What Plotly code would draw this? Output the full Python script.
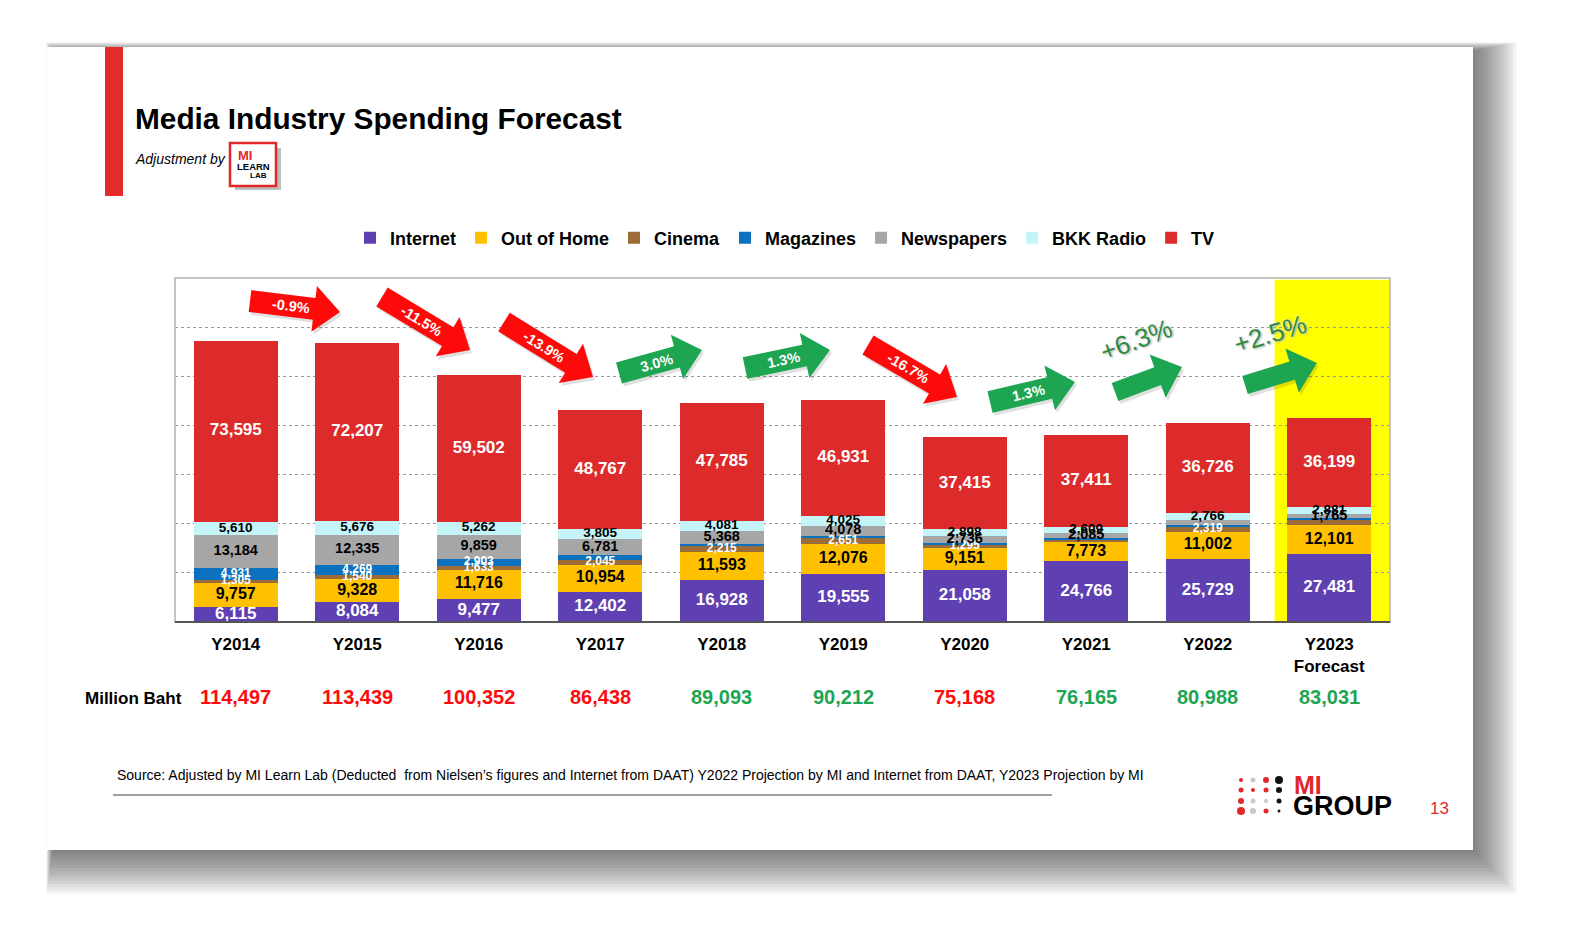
import math
import plotly.graph_objects as go

# ---------------- data ----------------
years = ["Y2014", "Y2015", "Y2016", "Y2017", "Y2018", "Y2019", "Y2020", "Y2021", "Y2022", "Y2023"]
tick_labels = ["Y2014", "Y2015", "Y2016", "Y2017", "Y2018", "Y2019", "Y2020", "Y2021", "Y2022", "Y2023<br>Forecast"]
internet = [6115, 8084, 9477, 12402, 16928, 19555, 21058, 24766, 25729, 27481]
out_of_home = [9757, 9328, 11716, 10954, 11593, 12076, 9151, 7773, 11002, 12101]
cinema = [1305, 1540, 1633, 2045, 2215, 2651, 1295, 1050, 2319, 2200]
magazines = [4931, 4269, 2903, 1684, 1123, 896, 615, 471, 446, 404]
newspapers = [13184, 12335, 9859, 6781, 5368, 4078, 2736, 2085, 2000, 1765]
bkk_radio = [5610, 5676, 5262, 3805, 4081, 4025, 2898, 2609, 2766, 2881]
tv = [73595, 72207, 59502, 48767, 47785, 46931, 37415, 37411, 36726, 36199]
totals = [114497, 113439, 100352, 86438, 89093, 90212, 75168, 76165, 80988, 83031]
growth_pct = [-0.9, -11.5, -13.9, 3.0, 1.3, -16.7, 1.3, 6.3, 2.5]

series_names = ["Internet", "Out of Home", "Cinema", "Magazines", "Newspapers", "BKK Radio", "TV"]
series_values = [internet, out_of_home, cinema, magazines, newspapers, bkk_radio, tv]

# ---------------- styles ----------------
colors = ["#5f40b2", "#ffc000", "#9b6b38", "#0c72c0", "#a6a6a6", "#c4f4f8", "#dd2b2b"]
label_colors = ["white", "black", "white", "white", "black", "black", "white"]
label_sizes = [17, 16, 12, 12, 14.5, 13.5, 17]
hidden_labels = {
    "Cinema": {7, 9},
    "Magazines": {3, 4, 5, 6, 7, 8, 9},
    "Newspapers": {8},
}
FONT = "Liberation Sans, Arial, sans-serif"
RED = "#ff0a0a"
GREEN = "#1ea552"

OFF = 8                     # page body margin
W, H = 1572 - 2 * OFF, 947 - 2 * OFF
PL, PR, PT, PB = 175, 1390, 278, 622  # plot area in reference pixels


def px(x):
    return (x - PL) / (PR - PL)


def py(y):
    return (PB - y) / (PB - PT)


fig = go.Figure()

# stacked bars
cum = [0] * len(years)
for name, vals, col, lc, ls in zip(series_names, series_values, colors, label_colors, label_sizes):
    fig.add_trace(go.Bar(
        x=years, y=vals, name=name, marker=dict(color=col, line=dict(width=0)),
        hoverinfo="x+y+name",
    ))
    hid = hidden_labels.get(name, set())
    mids, texts = [], []
    for i, v in enumerate(vals):
        mids.append(cum[i] + v / 2)
        texts.append("" if i in hid else f"{v:,}")
        cum[i] += v
    fig.add_trace(go.Scatter(
        x=years, y=mids, mode="text", text=texts, showlegend=False, hoverinfo="skip",
        textfont=dict(family=FONT, size=ls, color=lc, weight="bold"), cliponaxis=False,
    ))

shapes = []
# slide shadow (stronger to the right and bottom)
for k in range(14):
    e = 2 + k * 3.2
    shapes.append(dict(type="rect", xref="paper", yref="paper", layer="below",
                       x0=px(47 + 6 - e * 0.15), x1=px(1473 + e), y0=py(850 + e), y1=py(47 + 4 - e * 0.2),
                       line=dict(width=0), fillcolor="rgba(40,40,40,0.055)"))
# slide
shapes.append(dict(type="rect", xref="paper", yref="paper", layer="below",
                   x0=px(47), x1=px(1473), y0=py(850), y1=py(47),
                   line=dict(width=0), fillcolor="white"))
# left red bar
shapes.append(dict(type="rect", xref="paper", yref="paper", layer="below",
                   x0=px(105), x1=px(123), y0=py(196), y1=py(47),
                   line=dict(width=0), fillcolor="#e32b2b"))
# forecast highlight
shapes.append(dict(type="rect", xref="x", yref="y domain", layer="below",
                   x0=8.55, x1=9.5, y0=0, y1=0.995, line=dict(width=0), fillcolor="#ffff00"))
# plot frame
shapes.append(dict(type="rect", xref="paper", yref="paper", layer="above",
                   x0=0, x1=1, y0=0, y1=1, line=dict(width=2, color="#c4c4c4")))
shapes.append(dict(type="line", xref="paper", yref="paper", layer="above",
                   x0=0, x1=1, y0=0, y1=0, line=dict(width=2, color="#555555")))
# source underline
shapes.append(dict(type="line", xref="paper", yref="paper", layer="above",
                   x0=px(113), x1=px(1052), y0=py(795), y1=py(795), line=dict(width=1.2, color="#444444")))

# MI LEARN LAB logo box
shapes.append(dict(type="rect", xref="paper", yref="paper", layer="above",
                   x0=px(235), x1=px(281), y0=py(190), y1=py(148), line=dict(width=0), fillcolor="#bdbdbd"))
shapes.append(dict(type="rect", xref="paper", yref="paper", layer="above",
                   x0=px(230), x1=px(276), y0=py(186), y1=py(143),
                   line=dict(width=2.5, color="#e0282b"), fillcolor="white"))

# MI GROUP dots
dot_cols = [1241, 1253, 1266, 1279]
dot_rows = [780, 790, 801, 811]
dot_spec = [
    [("#e0282b", 2.0), ("#c8c8c8", 2.5), ("#e0282b", 3.0), ("#111111", 4.0)],
    [("#e0282b", 2.5), ("#e0282b", 2.0), ("#e0282b", 2.5), ("#111111", 3.0)],
    [("#e0282b", 3.0), ("#c8c8c8", 2.5), ("#c8c8c8", 2.0), ("#111111", 2.5)],
    [("#e0282b", 4.0), ("#c8c8c8", 3.0), ("#e0282b", 2.5), ("#111111", 1.5)],
]
for r, yy in enumerate(dot_rows):
    for c, xx in enumerate(dot_cols):
        col, rad = dot_spec[r][c]
        shapes.append(dict(type="circle", xref="paper", yref="paper", layer="above",
                           x0=px(xx - rad), x1=px(xx + rad), y0=py(yy + rad), y1=py(yy - rad),
                           line=dict(width=0), fillcolor=col))

annotations = []


def add_text(x, y, text, size, color="black", weight="normal", xanchor="center", style="normal",
             angle=0, shadow=None, family=FONT):
    f = dict(family=family, size=size, color=color, weight=weight, style=style)
    if shadow:
        f["shadow"] = shadow
    annotations.append(dict(xref="paper", yref="paper", x=px(x), y=py(y), text=text, showarrow=False,
                            xanchor=xanchor, yanchor="middle", font=f, textangle=angle))


# growth arrows (geometry in reference pixels: tail, tip)
arrow_geom = [
    (250, 301, 340, 312), (382, 297, 470, 350), (504, 322, 593, 377),
    (619, 373, 702, 350), (745, 368, 830, 350), (868, 345, 957, 397),
    (990, 402, 1075, 382), (1115, 392, 1182, 367), (1245, 385, 1317, 363),
]
big_label_pos = {7: (1136, 340), 8: (1270, 334)}
for i, (tx, ty, hx, hy) in enumerate(arrow_geom):
    g = growth_pct[i]
    col = GREEN if g >= 0 else RED
    big = i in big_label_pos
    L = math.hypot(hx - tx, hy - ty)
    ux, uy = (hx - tx) / L, (hy - ty) / L
    nx, ny = -uy, ux
    w = 19 if big else 22
    hw = 46
    hl = 26
    sx, sy = hx - hl * ux, hy - hl * uy
    pts = [
        (tx + w / 2 * nx, ty + w / 2 * ny), (sx + w / 2 * nx, sy + w / 2 * ny),
        (sx + hw / 2 * nx, sy + hw / 2 * ny), (hx, hy),
        (sx - hw / 2 * nx, sy - hw / 2 * ny), (sx - w / 2 * nx, sy - w / 2 * ny),
        (tx - w / 2 * nx, ty - w / 2 * ny),
    ]
    path = "M " + " L ".join(f"{px(a):.5f},{py(b):.5f}" for a, b in pts) + " Z"
    spath = "M " + " L ".join(f"{px(a + 2):.5f},{py(b + 3):.5f}" for a, b in pts) + " Z"
    shapes.append(dict(type="path", xref="paper", yref="paper", layer="above", path=spath,
                       fillcolor="rgba(0,0,0,0.12)", line=dict(width=0)))
    shapes.append(dict(type="path", xref="paper", yref="paper", layer="above", path=path,
                       fillcolor=col, line=dict(width=0)))
    ang = math.degrees(math.atan2(hy - ty, hx - tx))
    if big:
        bx, by = big_label_pos[i]
        add_text(bx, by, f"+{g:.1f}%", 26, color="#2d8a40", angle=ang,
                 shadow="0px 0px 2px #ffffff, 1px 1px 2px #9a9a9a")
    else:
        cx, cy = tx + ux * L * 0.45, ty + uy * L * 0.45
        add_text(cx, cy, f"{g:.1f}%", 14.5, color="white", weight="bold", angle=ang)

# titles and texts
add_text(133, 118, "Media Industry Spending Forecast", 29.8, weight="bold", xanchor="left")
add_text(133, 159, "Adjustment by", 14, style="italic", xanchor="left")
add_text(245, 155, "MI", 13, color="#e0282b", weight="bold")
add_text(253, 166, "LEARN", 9.5, weight="bold")
add_text(258, 176, "LAB", 8, weight="bold")
add_text(133, 698, "Million Baht", 17, weight="bold")
add_text(115, 775, "Source: Adjusted by MI Learn Lab (Deducted  from Nielsen\u2019s figures and Internet from DAAT) "
         "Y2022 Projection by MI and Internet from DAAT, Y2023 Projection by MI", 14, xanchor="left")
add_text(1292, 785, "MI", 25, color="#e0282b", weight="bold", xanchor="left")
add_text(1291, 806, "GROUP", 27, weight="bold", xanchor="left")
add_text(1439, 808, "13", 17, color="#e0282b")

# totals row
for i, (yr, t) in enumerate(zip(years, totals)):
    up = i > 0 and t >= totals[i - 1]
    annotations.append(dict(xref="x", yref="paper", x=yr, y=py(697), yanchor="middle", text=f"{t:,}",
                            showarrow=False,
                            font=dict(family=FONT, size=20, color=GREEN if up else RED, weight="bold")))

fig.update_layout(
    width=W, height=H, barmode="stack", bargap=0.31,
    margin=dict(l=PL - OFF, r=W - (PR - OFF), t=PT - OFF, b=H - (PB - OFF), autoexpand=False),
    paper_bgcolor="white", plot_bgcolor="rgba(0,0,0,0)",
    font=dict(family=FONT, color="black"),
    showlegend=True,
    legend=dict(orientation="h", x=px(785), xanchor="center", y=py(238), yanchor="middle",
                font=dict(family=FONT, size=18, color="black", weight="bold"),
                itemwidth=30, tracegroupgap=0, bgcolor="rgba(0,0,0,0)", traceorder="normal"),
    xaxis=dict(type="category", range=[-0.5, 9.5], tickmode="array", tickvals=years, ticktext=tick_labels,
               tickfont=dict(family=FONT, size=17, color="black", weight="bold"),
               showgrid=False, showline=False, ticks="", ticklabelstandoff=10),
    yaxis=dict(range=[0, 140000], dtick=20000, showticklabels=False, showgrid=True,
               gridcolor="#9a9a9a", griddash="dot", gridwidth=1, zeroline=False, showline=False),
    shapes=shapes, annotations=annotations,
)

fig.write_html("out.html")
